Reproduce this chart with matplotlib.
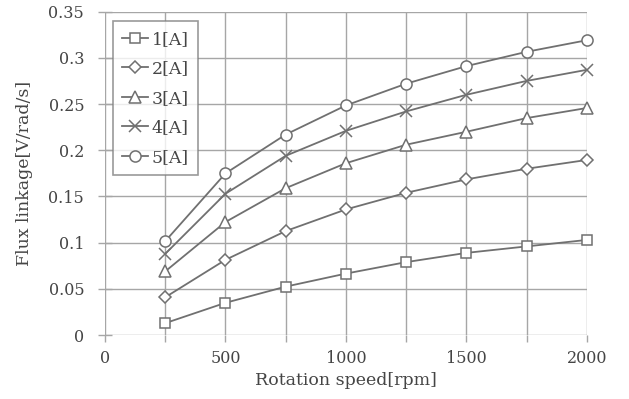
import matplotlib
matplotlib.use("Agg")
import matplotlib.pyplot as plt

speed = [250, 500, 750, 1000, 1250, 1500, 1750, 2000]
flux_1a = [0.013, 0.035, 0.0525, 0.0666, 0.079, 0.089, 0.096, 0.103]
flux_2a = [0.041, 0.0815, 0.1126, 0.136, 0.154, 0.1685, 0.180, 0.1895]
flux_3a = [0.069, 0.1224, 0.159, 0.186, 0.206, 0.220, 0.2348, 0.2457]
flux_4a = [0.088, 0.153, 0.194, 0.221, 0.242, 0.260, 0.275, 0.287]
flux_5a = [0.1017, 0.175, 0.217, 0.2485, 0.272, 0.291, 0.3065, 0.319]
labels = ["1[A]", "2[A]", "3[A]", "4[A]", "5[A]"]

plt.rcParams["font.family"] = ["DejaVu Serif"]
txt = "#454545"
line_c = "#707070"
grid_c = "#a6a6a6"

fig = plt.figure(figsize=(6.29, 3.99), dpi=100)
ax = fig.add_axes([0.167, 0.16, 0.766, 0.811])

series = [flux_1a, flux_2a, flux_3a, flux_4a, flux_5a]
markers = ["s", "D", "^", "x", "o"]
sizes = [7, 6, 8, 9, 8]
for vals, m, s, lab in zip(series, markers, sizes, labels):
    ax.plot(speed, vals, color=line_c, lw=1.3, marker=m, ms=s,
            mfc="white", mec=line_c, mew=1.1, label=lab, clip_on=False)

ax.set_xlim(0, 2000)
ax.set_ylim(0, 0.35)
ax.set_xticks([0, 500, 1000, 1500, 2000])
ax.set_yticks([0, 0.05, 0.1, 0.15, 0.2, 0.25, 0.3, 0.35])
ax.set_yticklabels(["0", "0.05", "0.1", "0.15", "0.2", "0.25", "0.3", "0.35"])
ax.set_xticks([250, 750, 1250, 1750], minor=True)
ax.grid(True, which="both", color=grid_c, lw=1.0)
ax.set_axisbelow(True)
for sp in ax.spines.values():
    sp.set_visible(False)
ax.tick_params(axis="x", which="both", length=5, width=1.0, color=grid_c,
               direction="out", labelsize=11.5, labelcolor=txt, pad=6)
ax.tick_params(axis="y", length=10, width=1.0, color=grid_c,
               direction="inout", labelsize=11.5, labelcolor=txt, pad=10)

ax.set_xlabel("Rotation speed[rpm]", fontsize=12.5, color=txt, labelpad=3)
ax.set_ylabel("Flux linkage[V/rad/s]", fontsize=12.5, color=txt, labelpad=11)

leg = ax.legend(loc="upper left", bbox_to_anchor=(0.016, 0.97), fontsize=12.5,
                frameon=True, fancybox=False, edgecolor="#808080",
                handlelength=1.5, labelspacing=0.72, borderpad=0.55,
                handletextpad=0.2, labelcolor=txt, borderaxespad=0)
leg.get_frame().set_linewidth(1.2)

fig.savefig("out.png", dpi=100)
